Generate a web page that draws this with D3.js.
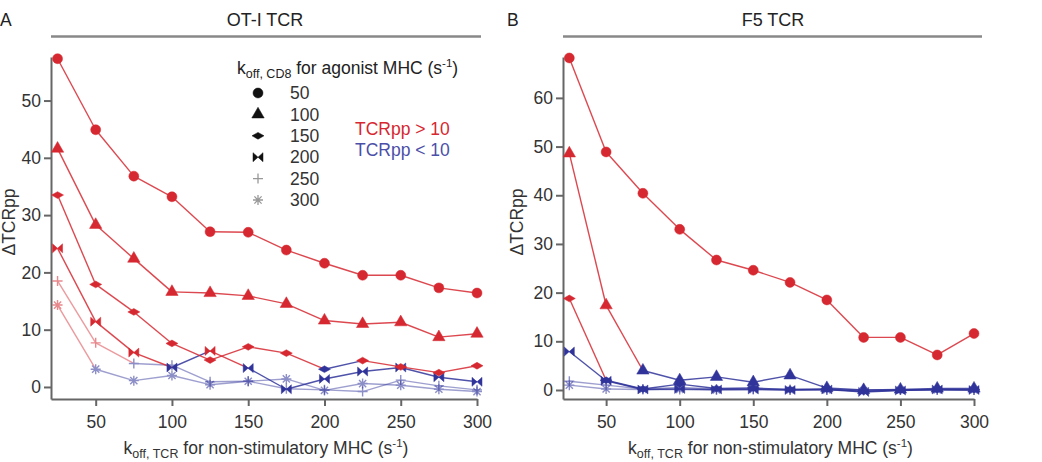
<!DOCTYPE html>
<html>
<head>
<meta charset="utf-8">
<script src="https://cdn.jsdelivr.net/npm/d3@7"></script>
<style>
  body { margin: 0; background: #fff; }
  svg { font-family: "Liberation Sans", Arial, Helvetica, sans-serif; }
  .tick text { fill: #333; font-size: 17.5px; }
  .axis path, .axis line { stroke: #666; stroke-width: 2; }
</style>
</head>
<body>
<div id="chart"></div>
<script>
// koff,TCR for non-stimulatory MHC (x) and koff,CD8 for agonist MHC (series)
const koffTCR = [25, 50, 75, 100, 125, 150, 175, 200, 225, 250, 275, 300];
const koffCD8 = [50, 100, 150, 200, 250, 300];
const xTicks = [50, 100, 150, 200, 250, 300];
const otiTicks = [0, 10, 20, 30, 40, 50];
const f5Ticks = [0, 10, 20, 30, 40, 50, 60];

// panel A: OT-I TCR, delta TCRpp
const oti50  = [57.3, 44.9, 36.8, 33.2, 27.1, 27.0, 23.9, 21.6, 19.5, 19.5, 17.3, 16.4];
const oti100 = [41.6, 28.3, 22.4, 16.6, 16.4, 15.9, 14.5, 11.6, 11.0, 11.3, 8.7, 9.3];
const oti150 = [33.5, 17.9, 13.1, 7.6, 4.7, 7.0, 5.9, 3.1, 4.6, 3.5, 2.5, 3.7];
const oti200 = [24.2, 11.4, 6.0, 3.4, 6.3, 3.3, -0.4, 1.4, 2.7, 3.4, 1.7, 0.9];
const oti250 = [18.5, 7.7, 4.1, 3.8, 0.9, 1.0, -0.3, -0.5, -0.8, 1.2, 0.2, -0.5];
const oti300 = [14.3, 3.1, 1.1, 2.0, 0.4, 1.0, 1.4, -0.6, 0.6, 0.3, -0.4, -0.8];
// 1 = TCRpp > 10 (red), 0 = TCRpp < 10 (blue)
const oti50Hi  = [1, 1, 1, 1, 1, 1, 1, 1, 1, 1, 1, 1];
const oti100Hi = [1, 1, 1, 1, 1, 1, 1, 1, 1, 1, 1, 1];
const oti150Hi = [1, 1, 1, 1, 1, 1, 1, 0, 1, 1, 1, 1];
const oti200Hi = [1, 1, 1, 0, 1, 0, 0, 0, 0, 0, 0, 0];
const oti250Hi = [1, 1, 0, 0, 0, 0, 0, 0, 0, 0, 0, 0];
const oti300Hi = [1, 0, 0, 0, 0, 0, 0, 0, 0, 0, 0, 0];

// panel B: F5 TCR
const f5_50  = [68.2, 48.9, 40.4, 33.0, 26.7, 24.6, 22.1, 18.5, 10.8, 10.8, 7.2, 11.6];
const f5_100 = [48.6, 17.4, 4.0, 2.0, 2.7, 1.6, 3.0, 0.4, 0.0, 0.1, 0.3, 0.3];
const f5_150 = [18.8, 2.0, 0.2, 1.2, 0.3, 0.4, 0.1, 0.2, -0.3, 0.0, 0.1, 0.1];
const f5_200 = [7.9, 1.9, 0.1, 0.2, 0.1, 0.1, 0.0, 0.1, -0.4, -0.1, 0.1, 0.0];
const f5_250 = [1.8, 1.0, 0.2, 0.5, 0.2, 0.2, 0.1, 0.1, 0.0, 0.0, 0.1, 0.0];
const f5_300 = [1.0, 0.2, 0.1, 0.1, 0.0, 0.1, 0.0, 0.0, -0.1, 0.0, 0.0, 0.0];
const f5_50Hi  = [1, 1, 1, 1, 1, 1, 1, 1, 1, 1, 1, 1];
const f5_100Hi = [1, 1, 0, 0, 0, 0, 0, 0, 0, 0, 0, 0];
const f5_150Hi = [1, 0, 0, 0, 0, 0, 0, 0, 0, 0, 0, 0];
const f5_200Hi = [0, 0, 0, 0, 0, 0, 0, 0, 0, 0, 0, 0];
const f5_250Hi = [0, 0, 0, 0, 0, 0, 0, 0, 0, 0, 0, 0];
const f5_300Hi = [0, 0, 0, 0, 0, 0, 0, 0, 0, 0, 0, 0];

const RED = "#d62830";
const BLUE = "#30349a";

// marker shapes per koff,CD8
const shapes = {
    50: { path: d3.symbol(d3.symbolCircle, 78)(), fill: true },
    100: { path: d3.symbol(d3.symbolTriangle, 66)(), fill: true },
    150: { path: "M-6,0L0,-3.4L6,0L0,3.4Z", fill: true },
    200: { path: "M-5,-4.5L0,0L-5,4.5ZM5,-4.5L0,0L5,4.5Z", fill: true },
    250: { path: "M-5,0H5M0,-5V5", fill: false },
    300: { path: "M-5,0H5M0,-5V5M-3.6,-3.6L3.6,3.6M-3.6,3.6L3.6,-3.6", fill: false }
};
const faded = { 250: 0.55, 300: 0.55 };

const svg = d3.select("#chart").append("svg")
    .attr("width", 1042)
    .attr("height", 462);

function drawPanel(opts) {
    const x = d3.scaleLinear().domain([20.7, 300]).range(opts.xRange);
    const y = d3.scaleLinear().domain(opts.yDomain).range([399, 57]);
    const g = svg.append("g");

    // panel letter + title with rule
    g.append("text").attr("x", opts.letterX).attr("y", 26)
        .attr("font-size", 17.5).attr("fill", "#222").text(opts.letter);
    g.append("text").attr("x", opts.titleX).attr("y", 26)
        .attr("text-anchor", "middle").attr("font-size", 18).attr("fill", "#222")
        .text(opts.title);
    g.append("line")
        .attr("x1", opts.xRange[0]).attr("x2", opts.ruleEnd)
        .attr("y1", 36.5).attr("y2", 36.5)
        .attr("stroke", "#888").attr("stroke-width", 2.5);

    // axes
    g.append("g").attr("class", "axis")
        .attr("transform", "translate(0,399)")
        .call(d3.axisBottom(x).tickValues(xTicks).tickSize(7).tickPadding(5).tickSizeOuter(0))
        .call(a => a.selectAll(".tick text").attr("dy", "0.95em"));
    g.append("g").attr("class", "axis")
        .attr("transform", `translate(${opts.xRange[0]},0)`)
        .call(d3.axisLeft(y).tickValues(opts.yTicks).tickSize(7).tickPadding(3).tickSizeOuter(0));

    // axis titles
    const xt = g.append("text")
        .attr("x", (opts.xRange[0] + opts.xRange[1]) / 2 + 2).attr("y", 454)
        .attr("text-anchor", "middle").attr("font-size", 17.5).attr("fill", "#333");
    xt.append("tspan").text("k");
    xt.append("tspan").attr("font-size", 12.5).attr("dy", 4).text("off, TCR");
    xt.append("tspan").attr("dy", -4).text(" for non-stimulatory MHC (s");
    xt.append("tspan").attr("font-size", 11.5).attr("dy", -7).text("-1");
    xt.append("tspan").attr("dy", 7).text(")");

    g.append("text")
        .attr("transform", `translate(${opts.yLabelX},222) rotate(-90)`)
        .attr("text-anchor", "middle").attr("font-size", 17.5).attr("fill", "#333")
        .text("\u0394TCRpp");

    // series: each segment takes the colour of its left point
    opts.series.slice().reverse().forEach(s => {
        const pts = koffTCR.map((k, i) => ({ k, v: s.values[i], hi: s.hi[i] }));
        const op = faded[s.cd8] || 1;
        const lg = g.append("g").attr("opacity", op);
        lg.selectAll("line.seg")
            .data(d3.pairs(pts))
            .join("line")
            .attr("class", "seg")
            .attr("x1", d => x(d[0].k)).attr("y1", d => y(d[0].v))
            .attr("x2", d => x(d[1].k)).attr("y2", d => y(d[1].v))
            .attr("stroke", d => d[0].hi ? RED : BLUE)
            .attr("stroke-opacity", 0.85)
            .attr("stroke-width", 1.4);
        const sh = shapes[s.cd8];
        lg.selectAll("path.mk")
            .data(pts)
            .join("path")
            .attr("class", "mk")
            .attr("transform", d => `translate(${x(d.k)},${y(d.v)})`)
            .attr("d", sh.path)
            .attr("fill", d => sh.fill ? (d.hi ? RED : BLUE) : "none")
            .attr("stroke", d => d.hi ? RED : BLUE)
            .attr("stroke-width", sh.fill ? 0.5 : 1.4);
    });
}

drawPanel({
    letter: "A", letterX: 0, title: "OT-I TCR", titleX: 265, ruleEnd: 481,
    xRange: [51, 477], yDomain: [-2.1, 57.6], yTicks: otiTicks, yLabelX: 15,
    series: [
        { cd8: 50, values: oti50, hi: oti50Hi },
        { cd8: 100, values: oti100, hi: oti100Hi },
        { cd8: 150, values: oti150, hi: oti150Hi },
        { cd8: 200, values: oti200, hi: oti200Hi },
        { cd8: 250, values: oti250, hi: oti250Hi },
        { cd8: 300, values: oti300, hi: oti300Hi }
    ]
});

drawPanel({
    letter: "B", letterX: 507, title: "F5 TCR", titleX: 773, ruleEnd: 982,
    xRange: [563, 974], yDomain: [-1.85, 68.4], yTicks: f5Ticks, yLabelX: 523,
    series: [
        { cd8: 50, values: f5_50, hi: f5_50Hi },
        { cd8: 100, values: f5_100, hi: f5_100Hi },
        { cd8: 150, values: f5_150, hi: f5_150Hi },
        { cd8: 200, values: f5_200, hi: f5_200Hi },
        { cd8: 250, values: f5_250, hi: f5_250Hi },
        { cd8: 300, values: f5_300, hi: f5_300Hi }
    ]
});

// legend (panel A)
const legend = svg.append("g");
const lt = legend.append("text").attr("x", 237).attr("y", 74)
    .attr("font-size", 17.5).attr("fill", "#222");
lt.append("tspan").text("k");
lt.append("tspan").attr("font-size", 12.5).attr("dy", 4).text("off, CD8");
lt.append("tspan").attr("dy", -4).text(" for agonist MHC (s");
lt.append("tspan").attr("font-size", 11.5).attr("dy", -7).text("-1");
lt.append("tspan").attr("dy", 7).text(")");

const rowY = d3.scalePoint().domain(koffCD8).range([93, 200]);
const rows = legend.selectAll("g.row").data(koffCD8).join("g")
    .attr("class", "row")
    .attr("transform", d => `translate(0,${rowY(d)})`);
rows.append("path")
    .attr("transform", "translate(258,0)")
    .attr("d", d => shapes[d].path)
    .attr("fill", d => shapes[d].fill ? "#111" : "none")
    .attr("stroke", d => shapes[d].fill ? "#111" : "#999")
    .attr("stroke-width", d => shapes[d].fill ? 0.5 : 1.3);
rows.append("text")
    .attr("x", 290).attr("dy", "0.35em")
    .attr("font-size", 17.5).attr("fill", "#333")
    .text(d => d);

legend.append("text").attr("x", 355).attr("y", 129).attr("dy", "0.35em")
    .attr("font-size", 17.5).attr("fill", RED).text("TCRpp > 10");
legend.append("text").attr("x", 355).attr("y", 150).attr("dy", "0.35em")
    .attr("font-size", 17.5).attr("fill", "#4b4fa8").text("TCRpp < 10");
</script>
</body>
</html>
